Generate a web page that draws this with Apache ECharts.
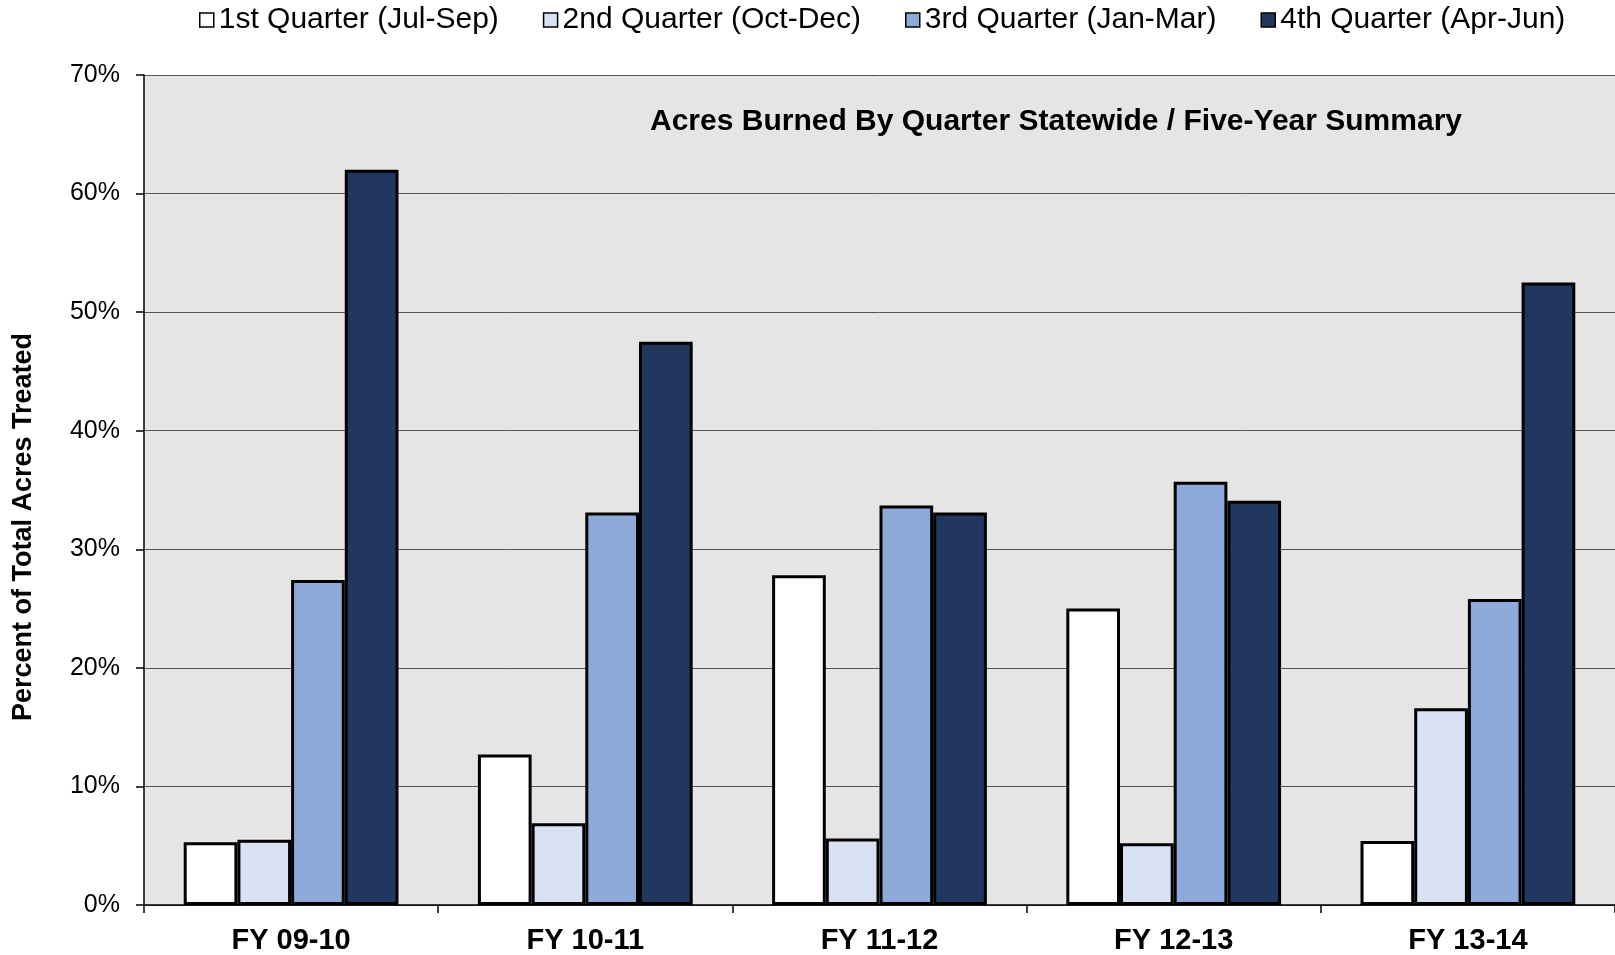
<!DOCTYPE html>
<html>
<head>
<meta charset="utf-8">
<title>Acres Burned By Quarter</title>
<script src="https://cdn.jsdelivr.net/npm/echarts@6/dist/echarts.min.js"></script>
<style>
  html, body { margin: 0; padding: 0; background: #fff; }
  #chart { width: 1615px; height: 955px; }
</style>
</head>
<body>
<div id="chart"></div>
<script>
// data (percent of total acres treated)
var years = ['FY 09-10', 'FY 10-11', 'FY 11-12', 'FY 12-13', 'FY 13-14'];
var quarterNames = ['1st Quarter (Jul-Sep)', '2nd Quarter (Oct-Dec)', '3rd Quarter (Jan-Mar)', '4th Quarter (Apr-Jun)'];
var q1 = [5.3, 12.7, 27.8, 25.0, 5.4];
var q2 = [5.5, 6.9, 5.6, 5.2, 16.6];
var q3 = [27.4, 33.1, 33.7, 35.7, 25.8];
var q4 = [62.0, 47.5, 33.1, 34.1, 52.5];
var yTicks = [0, 10, 20, 30, 40, 50, 60, 70];

var colors = ['#ffffff', '#d9e2f3', '#8eaadb', '#21375f'];
var font = 'Liberation Sans, Arial, sans-serif';

var myChart = echarts.init(document.getElementById('chart'));

function makeSeries(idx, values) {
    return {
        name: quarterNames[idx],
        type: 'bar',
        data: values,
        barGap: '0%',
        barCategoryGap: '27%',
        itemStyle: {
            color: colors[idx],
            borderColor: '#000',
            borderWidth: 3
        },
        emphasis: { disabled: true }
    };
}

var option = {
    animation: false,
    textStyle: { fontFamily: font },
    legend: {
        left: 194,
        top: 3,
        padding: [2, 5],
        itemWidth: 14,
        itemHeight: 14,
        itemGap: 44,
        icon: 'rect',
        data: quarterNames,
        textStyle: { fontSize: 30, color: '#000', fontFamily: font },
        itemStyle: { borderColor: '#000', borderWidth: 1.5 }
    },
    // chart title sits inside the plot area
    graphic: [
        {
            type: 'text',
            x: 1056,
            y: 122,
            style: {
                text: 'Acres Burned By Quarter Statewide / Five-Year Summary',
                font: 'bold 30px ' + font,
                fill: '#000',
                align: 'center',
                verticalAlign: 'middle'
            }
        },
        {
            type: 'text',
            x: 24,
            y: 527,
            rotation: Math.PI / 2,
            style: {
                text: 'Percent of Total Acres Treated',
                font: 'bold 27px ' + font,
                fill: '#000',
                align: 'center',
                verticalAlign: 'middle'
            }
        }
    ],
    grid: {
        left: 144,
        top: 75,
        width: 1474,
        height: 830,
        show: true,
        backgroundColor: '#e5e5e5',
        borderWidth: 0
    },
    xAxis: {
        type: 'category',
        data: years,
        axisLine: { lineStyle: { color: '#000', width: 1.5 } },
        axisTick: { show: true, length: 8, lineStyle: { color: '#000', width: 1.5 } },
        axisLabel: { color: '#000', fontSize: 29, fontWeight: 'bold', margin: 21, fontFamily: font },
        splitLine: { show: false }
    },
    yAxis: {
        type: 'value',
        min: yTicks[0],
        max: yTicks[yTicks.length - 1],
        interval: 10,
        axisLine: { show: true, lineStyle: { color: '#000', width: 1.5 } },
        axisTick: { show: true, length: 8, lineStyle: { color: '#000', width: 1.5 } },
        axisLabel: { color: '#000', fontSize: 25, margin: 24, formatter: '{value}%', fontFamily: font },
        splitLine: { show: true, lineStyle: { color: '#555', width: 1 } }
    },
    series: [
        makeSeries(0, q1),
        makeSeries(1, q2),
        makeSeries(2, q3),
        makeSeries(3, q4)
    ]
};

myChart.setOption(option);
</script>
</body>
</html>
